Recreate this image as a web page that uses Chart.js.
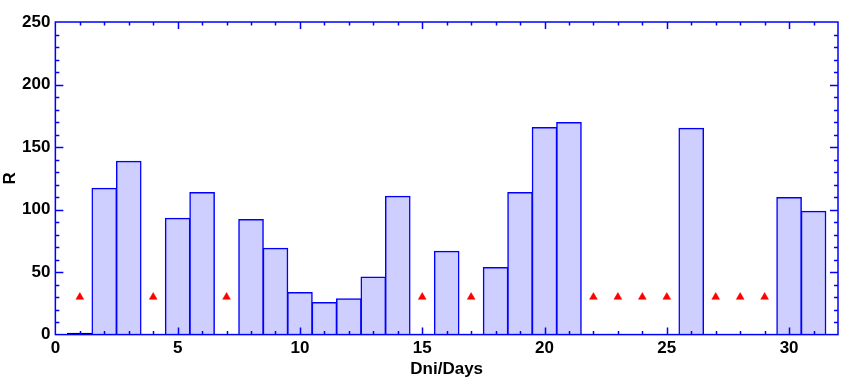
<!DOCTYPE html>
<html>
<head>
<meta charset="utf-8">
<script src="https://cdn.jsdelivr.net/npm/chart.js@4/dist/chart.umd.min.js"></script>
<style>
  html, body { margin: 0; padding: 0; background: #ffffff; }
  #wrap { width: 843px; height: 378px; position: relative; }
</style>
</head>
<body>
<div id="wrap"><canvas id="chart"></canvas></div>
<script>
// Days on the x axis and the measured R values (null = no bar that day)
const days = [1, 2, 3, 4, 5, 6, 7, 8, 9, 10, 11, 12, 13, 14, 15, 16,
              17, 18, 19, 20, 21, 22, 23, 24, 25, 26, 27, 28, 29, 30, 31];
const rValues = [1, 117, 138.5, null, 93, 113.5, null, 92, 69, 33.5, 25.5, 28.5, 46, 110.5, null, 66.5,
                 null, 53.5, 113.5, 165.5, 169.5, null, null, null, null, 165, null, null, null, 109.5, 98.5];
// Days marked with a red triangle, and the level they sit at
const markerDays = [1, 4, 7, 15, 17, 22, 23, 24, 25, 27, 28, 29];
const markerLevel = 30;

const xRange = [0, 32];
const yRange = [0, 250];

const BLUE = '#0000ff';
const FONT = 'Liberation Sans, Arial, sans-serif';

const barData = days.map((d, i) => ({ x: d, y: rValues[i] }));
const markerData = markerDays.map(d => ({ x: d, y: markerLevel }));

// frame on all four sides + ticks pointing into the plot
const frameTicks = {
  id: 'frameTicks',
  afterDatasetsDraw(chart) {
    const { ctx, chartArea: a, scales } = chart;
    const xs = scales.x, ys = scales.y;
    ctx.save();
    ctx.strokeStyle = BLUE;
    ctx.lineWidth = 1.5;
    ctx.beginPath();
    for (let v = xRange[0] + 1; v < xRange[1]; v++) {
      const px = Math.round(xs.getPixelForValue(v)) + 0.5;
      const len = v % 5 === 0 ? 7 : 3.5;
      ctx.moveTo(px, a.bottom); ctx.lineTo(px, a.bottom - len);
      ctx.moveTo(px, a.top); ctx.lineTo(px, a.top + len);
    }
    for (let v = yRange[0] + 10; v < yRange[1]; v += 10) {
      const py = Math.round(ys.getPixelForValue(v)) + 0.5;
      const len = v % 50 === 0 ? 8 : 4;
      ctx.moveTo(a.left, py); ctx.lineTo(a.left + len, py);
      ctx.moveTo(a.right, py); ctx.lineTo(a.right - len, py);
    }
    ctx.stroke();
    ctx.strokeRect(a.left, a.top, a.right - a.left, a.bottom - a.top);
    ctx.restore();
  }
};

new Chart(document.getElementById('chart'), {
  type: 'bar',
  data: {
    datasets: [
      {
        type: 'scatter',
        label: 'marks',
        data: markerData,
        pointStyle: 'triangle',
        pointRadius: 4.5,
        pointBackgroundColor: '#ff0000',
        pointBorderColor: '#ff0000',
        pointBorderWidth: 0.5,
        order: 0
      },
      {
        label: 'R',
        data: barData,
        // day 1 is almost zero and shows only as a dark line on the axis
        backgroundColor: days.map(d => d === 1 ? '#000000' : '#cfcfff'),
        borderColor: days.map(d => d === 1 ? '#000000' : BLUE),
        borderWidth: days.map(d => d === 1 ? 2 : 1.5),
        borderSkipped: 'start',
        inflateAmount: 0.6,
        barPercentage: 1,
        categoryPercentage: 1,
        order: 1
      }
    ]
  },
  options: {
    responsive: true,
    maintainAspectRatio: false,
    animation: false,
    layout: { padding: { top: 22, right: 2, left: 2, bottom: 0 } },
    plugins: {
      legend: { display: false },
      tooltip: { enabled: false }
    },
    scales: {
      x: {
        type: 'linear',
        min: xRange[0],
        max: xRange[1],
        offset: false,
        afterBuildTicks(scale) {
          scale.ticks = scale.ticks.filter(t => t.value % 5 === 0);
        },
        ticks: {
          stepSize: 5,
          color: '#000000',
          padding: 4,
          maxRotation: 0,
          font: { family: FONT, size: 17, weight: 'bold' }
        },
        grid: { display: false, drawTicks: false },
        border: { display: false },
        title: {
          display: true,
          text: 'Dni/Days',
          color: '#000000',
          padding: { top: -2, bottom: 0 },
          font: { family: FONT, size: 17, weight: 'bold', lineHeight: 1 }
        }
      },
      y: {
        type: 'linear',
        min: yRange[0],
        max: yRange[1],
        ticks: {
          stepSize: 50,
          color: '#000000',
          padding: 5,
          font: { family: FONT, size: 17, weight: 'bold' }
        },
        grid: { display: false, drawTicks: false },
        border: { display: false },
        title: {
          display: true,
          text: 'R',
          color: '#000000',
          padding: { top: 0, bottom: -2 },
          font: { family: FONT, size: 17, weight: 'bold', lineHeight: 1 }
        }
      }
    }
  },
  plugins: [frameTicks]
});
</script>
</body>
</html>
